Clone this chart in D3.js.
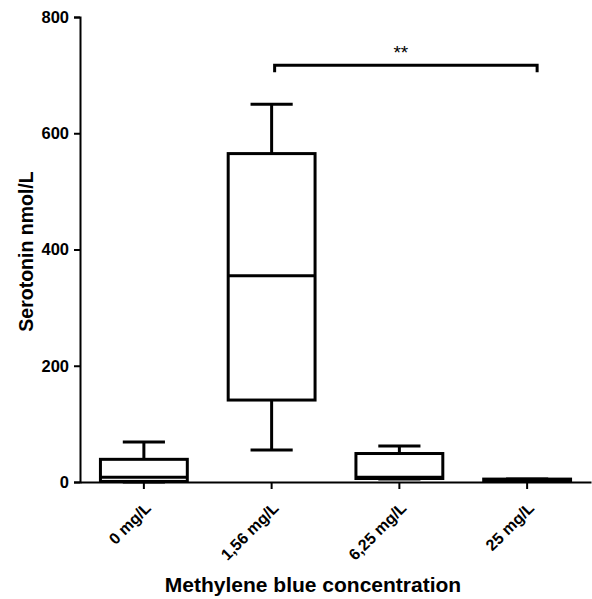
<!DOCTYPE html>
<html>
<head>
<meta charset="utf-8">
<script src="https://cdn.jsdelivr.net/npm/d3@7"></script>
<style>
  body { margin: 0; background: #fff; }
  text { font-family: "Liberation Sans", Arial, sans-serif; font-weight: bold; fill: #000; }
</style>
</head>
<body>
<div id="chart"></div>
<script>
// box plot data (min, q1, median, q3, max)
const categories = ["0 mg/L", "1,56 mg/L", "6,25 mg/L", "25 mg/L"];
const mins    = [0, 55, 5, 2];
const q1s     = [1, 141, 6, 2];
const medians = [8, 355, 8, 3];
const q3s     = [39, 565, 49, 5];
const maxs    = [69, 650, 62, 5];
const yTicks  = [0, 200, 400, 600, 800];
const sigPair = ["1,56 mg/L", "25 mg/L"];
const sigLevel = 717;
const sigLabel = "**";

const width = 592, height = 599;
const margin = { top: 17, right: 1, bottom: 117, left: 80 };
const chartW = width - margin.left - margin.right;
const chartH = height - margin.top - margin.bottom;

const boxes = categories.map((c, i) => ({
  cat: c, min: mins[i], q1: q1s[i], med: medians[i], q3: q3s[i], max: maxs[i]
}));

const svg = d3.select("#chart").append("svg")
  .attr("width", width).attr("height", height)
  .append("g")
  .attr("transform", `translate(${margin.left},${margin.top})`);

const x = d3.scaleBand().domain(categories).range([0, chartW]).padding(0);
const y = d3.scaleLinear().domain([0, 800]).range([chartH, 0]);

const boxW = x.bandwidth() * 0.68;
const capW = x.bandwidth() * 0.33;

// y axis
const yAxis = svg.append("g")
  .call(d3.axisLeft(y).tickValues(yTicks).tickSize(6).tickPadding(5).tickFormat(d3.format("d")));
yAxis.select(".domain").attr("stroke-width", 2);
yAxis.selectAll(".tick line").attr("stroke-width", 2);
yAxis.selectAll(".tick text").style("font-size", "16.5px");

// x axis
const xAxis = svg.append("g")
  .attr("transform", `translate(0,${chartH})`)
  .call(d3.axisBottom(x).tickSize(7).tickSizeOuter(0));
xAxis.select(".domain").attr("stroke-width", 2);
xAxis.selectAll(".tick line").attr("stroke-width", 2);
xAxis.selectAll(".tick text")
  .style("font-size", "16px")
  .attr("text-anchor", "end")
  .attr("dy", null)
  .attr("y", 0)
  .attr("transform", "translate(8,27) rotate(-45)");

// boxes
const g = svg.selectAll(".box").data(boxes).join("g")
  .attr("class", "box")
  .attr("transform", d => `translate(${x(d.cat) + x.bandwidth() / 2},0)`);

g.append("line")
  .attr("x1", 0).attr("x2", 0)
  .attr("y1", d => y(d.max)).attr("y2", d => y(d.q3))
  .attr("stroke", "#000").attr("stroke-width", 3);
g.append("line")
  .attr("x1", 0).attr("x2", 0)
  .attr("y1", d => y(d.min)).attr("y2", d => y(d.q1))
  .attr("stroke", "#000").attr("stroke-width", 3);
g.append("line")
  .attr("x1", -capW / 2).attr("x2", capW / 2)
  .attr("y1", d => y(d.max)).attr("y2", d => y(d.max))
  .attr("stroke", "#000").attr("stroke-width", 3);
g.append("line")
  .attr("x1", -capW / 2).attr("x2", capW / 2)
  .attr("y1", d => y(d.min)).attr("y2", d => y(d.min))
  .attr("stroke", "#000").attr("stroke-width", 3);
g.append("rect")
  .attr("x", -boxW / 2).attr("width", boxW)
  .attr("y", d => y(d.q3))
  .attr("height", d => Math.max(y(d.q1) - y(d.q3), 0.5))
  .attr("fill", "#fff").attr("stroke", "#000").attr("stroke-width", 3);
g.append("line")
  .attr("x1", -boxW / 2).attr("x2", boxW / 2)
  .attr("y1", d => y(d.med)).attr("y2", d => y(d.med))
  .attr("stroke", "#000").attr("stroke-width", 3);

// significance bracket
const bx1 = x(sigPair[0]) + x.bandwidth() / 2 + 3;
const bx2 = x(sigPair[1]) + x.bandwidth() / 2 + 10;
const by = y(sigLevel);
svg.append("path")
  .attr("d", `M${bx1},${by + 7}V${by}H${bx2}V${by + 7}`)
  .attr("fill", "none").attr("stroke", "#000").attr("stroke-width", 3);
svg.append("text")
  .attr("x", (bx1 + bx2) / 2 - 5).attr("y", by - 6)
  .attr("text-anchor", "middle")
  .style("font-size", "19px").style("font-weight", "normal")
  .text(sigLabel);

// axis titles
svg.append("text")
  .attr("transform", `translate(${-47},${y(400) + 2}) rotate(-90)`)
  .attr("text-anchor", "middle")
  .style("font-size", "19.5px")
  .text("Serotonin nmol/L");
svg.append("text")
  .attr("x", 233).attr("y", chartH + 110)
  .attr("text-anchor", "middle")
  .style("font-size", "21px")
  .text("Methylene blue concentration");
</script>
</body>
</html>
